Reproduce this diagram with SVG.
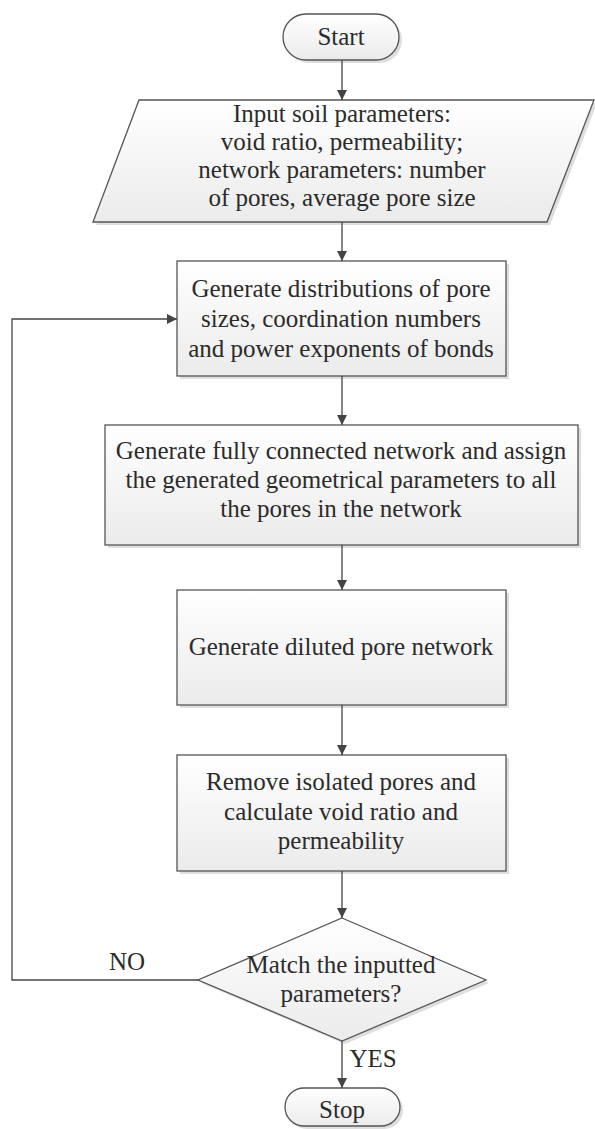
<svg xmlns="http://www.w3.org/2000/svg" width="595" height="1129" viewBox="0 0 595 1129">
<defs>
<linearGradient id="g" x1="0" y1="0" x2="0" y2="1">
<stop offset="0" stop-color="#ffffff"/>
<stop offset="1" stop-color="#ebebeb"/>
</linearGradient>
<marker id="arr" viewBox="0 0 10 10" refX="10" refY="5" markerWidth="10" markerHeight="10" markerUnits="userSpaceOnUse" orient="auto">
<path d="M0,0 L10,5 L0,10 Z" fill="#444"/>
</marker>
</defs>
<style>
.s{fill:url(#g);stroke:#555;stroke-width:1.3}
.sh{fill:#c8c8c8;opacity:0.6}
.t{font-family:"Liberation Serif","Times New Roman",serif;font-size:25px;fill:#2b2b2b;text-anchor:middle}
.c{fill:none;stroke:#444;stroke-width:1.3}
</style>
<rect width="595" height="1129" fill="#fff"/>
<g id="start">
<rect class="sh" x="286" y="17" width="116" height="46" rx="23"/>
<rect class="s" x="283" y="14" width="116" height="46" rx="23"/>
<text class="t" x="341" y="45">Start</text>
</g>
<g id="input">
<polygon class="sh" points="142,103 597,103 550,225 96,225"/>
<polygon class="s" points="139,100 594,100 547,222 93,222"/>
<text class="t" x="342" y="122">Input soil parameters:</text>
<text class="t" x="342" y="150">void ratio, permeability;</text>
<text class="t" x="342" y="178">network parameters: number</text>
<text class="t" x="342" y="206">of pores, average pore size</text>
</g>
<g id="gen-dist">
<rect class="sh" x="180" y="264" width="329" height="115"/>
<rect class="s" x="177" y="261" width="329" height="115"/>
<text class="t" x="341" y="297">Generate distributions of pore</text>
<text class="t" x="341" y="327">sizes, coordination numbers</text>
<text class="t" x="341" y="357">and power exponents of bonds</text>
</g>
<g id="gen-net">
<rect class="sh" x="108" y="428" width="473" height="120"/>
<rect class="s" x="105" y="425" width="473" height="120"/>
<text class="t" x="341" y="459">Generate fully connected network and assign</text>
<text class="t" x="341" y="488">the generated geometrical parameters to all</text>
<text class="t" x="341" y="517">the pores in the network</text>
</g>
<g id="diluted">
<rect class="sh" x="180" y="593" width="329" height="115"/>
<rect class="s" x="177" y="590" width="329" height="115"/>
<text class="t" x="341" y="655">Generate diluted pore network</text>
</g>
<g id="remove">
<rect class="sh" x="180" y="758" width="329" height="116"/>
<rect class="s" x="177" y="755" width="329" height="116"/>
<text class="t" x="341" y="790">Remove isolated pores and</text>
<text class="t" x="341" y="820">calculate void ratio and</text>
<text class="t" x="341" y="849">permeability</text>
</g>
<g id="match">
<polygon class="sh" points="345,921 489,983 345,1044 201,983"/>
<polygon class="s" points="342,918 486,980 342,1041 198,980"/>
<text class="t" x="341" y="973">Match the inputted</text>
<text class="t" x="341" y="1002">parameters?</text>
</g>
<g id="stop">
<rect class="sh" x="288" y="1091" width="115" height="38" rx="19"/>
<rect class="s" x="285" y="1088" width="115" height="38" rx="19"/>
<text class="t" x="342" y="1118">Stop</text>
</g>
<g id="connectors">
<line class="c" x1="342" y1="60" x2="342" y2="100" marker-end="url(#arr)"/>
<line class="c" x1="342" y1="222" x2="342" y2="261" marker-end="url(#arr)"/>
<line class="c" x1="342" y1="376" x2="342" y2="425" marker-end="url(#arr)"/>
<line class="c" x1="342" y1="545" x2="342" y2="590" marker-end="url(#arr)"/>
<line class="c" x1="342" y1="705" x2="342" y2="755" marker-end="url(#arr)"/>
<line class="c" x1="342" y1="871" x2="342" y2="918" marker-end="url(#arr)"/>
<line class="c" x1="342" y1="1041" x2="342" y2="1088" marker-end="url(#arr)"/>
<polyline class="c" points="198,980 12,980 12,319 177,319" marker-end="url(#arr)"/>
<text class="t" x="127" y="970">NO</text>
<text class="t" x="373" y="1067">YES</text>
</g>
</svg>
